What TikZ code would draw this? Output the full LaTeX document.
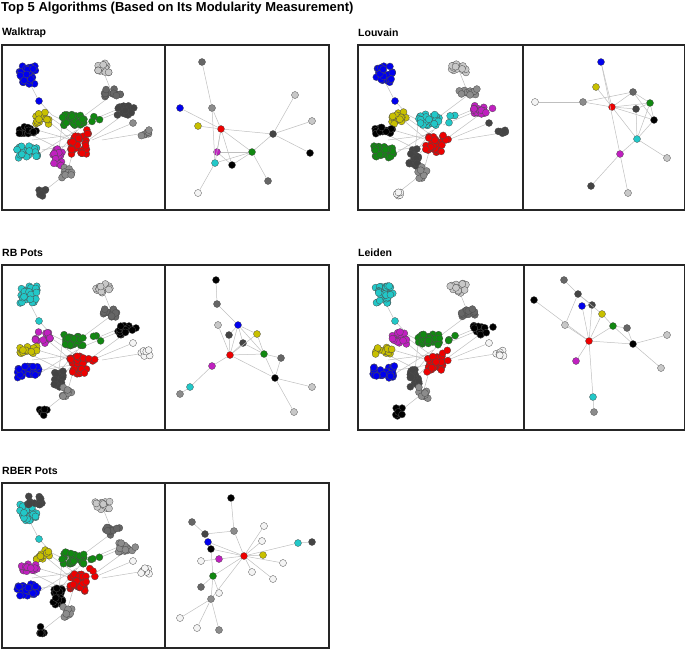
\documentclass[tikz,border=0pt]{standalone}
\usepackage{fontspec}
\setmainfont{Liberation Sans}
\definecolor{dk}{HTML}{444444}
\definecolor{dg}{HTML}{666666}
\definecolor{gr}{HTML}{8c8c8c}
\definecolor{lg}{HTML}{c8c8c8}
\definecolor{wt}{HTML}{f4f4f4}
\definecolor{bl}{HTML}{0000ee}
\definecolor{cy}{HTML}{22c8c8}
\definecolor{yl}{HTML}{c8c000}
\definecolor{gn}{HTML}{118811}
\definecolor{rd}{HTML}{ee0000}
\definecolor{mg}{HTML}{c020c0}
\tikzstyle{net-point}=[circle, draw=black!70, line width=0.3pt, inner sep=0pt, minimum size=7pt]
\tikzstyle{net-edge}=[draw=black!25, line width=0.5pt]
\tikzstyle{panel-box}=[draw=black!85, line width=1.3pt]
\tikzstyle{panel-title}=[anchor=west, inner sep=0pt, font=\bfseries\fontsize{10.5}{12}\selectfont]
\newcommand{\paletteA}[7]{\colorlet{cA}{#1}\colorlet{cB}{#2}\colorlet{cC}{#3}\colorlet{cD}{#4}\colorlet{cE}{#5}\colorlet{cF}{#6}\colorlet{cG}{#7}}
\newcommand{\paletteB}[6]{\colorlet{cH}{#1}\colorlet{cI}{#2}\colorlet{cJ}{#3}\colorlet{cK}{#4}\colorlet{cL}{#5}\colorlet{cM}{#6}}
% one cloud of points: centre x, centre y, colour, count, spread x, spread y
\newcommand{\blob}[6]{%
  \foreach \i in {1,...,#4}
    \filldraw[fill=#3, draw=black!70, line width=0.3pt]
      ({#1+#5*rand}, {#2+#6*rand}) circle (3.5);}
\newcommand{\clusters}{%
  \foreach \xa/\ya/\xb/\yb in {37/56/50/70, 50/70/70/80, 35/85/70/95, 45/75/73/98, 70/80/110/50,
      85/80/121/65, 40/105/70/100, 60/110/73/98, 80/100/121/70, 65/128/73/100, 65/128/41/147,
      90/95/131/78, 100/95/143/88, 30/95/70/90, 50/115/80/80, 30/90/60/105, 45/70/80/95,
      35/110/75/85, 60/80/56/113, 90/75/121/62}
    \draw[net-edge] (\xa,\ya) -- (\xb,\yb);
  \draw[net-edge] (37,56) -- (26,35);
  \draw[net-edge] (100,23) -- (110,48);
  \blob{26}{30}{cA}{34}{9}{9}
  \blob{37}{56}{cA}{1}{0}{0}
  \blob{100}{23}{cB}{14}{8}{5}
  \blob{110}{48}{cC}{13}{9}{4}
  \blob{121}{65}{cD}{16}{6}{5}
  \blob{131}{65}{cD}{2}{4}{3}
  \blob{143}{88}{cE}{7}{5}{3}
  \blob{131}{78}{cE}{1}{0}{0}
  \blob{41}{73}{cF}{16}{8}{6}
  \blob{71}{75}{cG}{32}{11}{6}
  \blob{95}{74}{cG}{3}{6}{4}
  \blob{26}{85}{cH}{16}{9}{4}
  \blob{76}{100}{cI}{32}{9}{9}
  \blob{88}{90}{cI}{3}{5}{6}
  \blob{26}{107}{cJ}{28}{11}{6}
  \blob{56}{113}{cK}{20}{5}{9}
  \blob{65}{128}{cL}{9}{5}{6}
  \blob{41}{147}{cM}{6}{4}{4}}

\begin{document}
\begin{tikzpicture}[x=1pt, y=-1pt]
  \useasboundingbox (0,0) rectangle (685,648);
  \pgfmathsetseed{7}
  \node (title) at (1,8) [panel-title, font=\bfseries\fontsize{13}{15}\selectfont] {Top 5 Algorithms (Based on Its Modularity Measurement)};

  % Walktrap
  \node (walktrap) at (2,33) [panel-title] {Walktrap};
  \begin{scope}[shift={(2,45)}]
    \paletteA{bl}{lg}{dg}{dk}{gr}{yl}{gn}\paletteB{black}{rd}{cy}{mg}{gr}{dk}
    \clusters
  \end{scope}
  \begin{scope}[shift={(165,45)}]
    \node (w1) at (37,17) [net-point, fill=dg] {};
    \node (w2) at (15,63) [net-point, fill=bl] {};
    \node (w3) at (47,63) [net-point, fill=gr] {};
    \node (w4) at (33,81) [net-point, fill=yl] {};
    \node (w5) at (56,84) [net-point, fill=rd] {};
    \node (w6) at (130,50) [net-point, fill=lg] {};
    \node (w7) at (147,76) [net-point, fill=lg] {};
    \node (w8) at (108,89) [net-point, fill=dk] {};
    \node (w9) at (145,108) [net-point, fill=black] {};
    \node (w10) at (87,107) [net-point, fill=gn] {};
    \node (w11) at (52,107) [net-point, fill=mg] {};
    \node (w12) at (50,118) [net-point, fill=cy] {};
    \node (w13) at (67,120) [net-point, fill=black] {};
    \node (w14) at (103,136) [net-point, fill=dg] {};
    \node (w15) at (33,148) [net-point, fill=wt] {};
    \foreach \a/\b in {1/3, 3/5, 2/5, 4/5, 5/8, 8/6, 8/7, 8/9, 8/10, 5/10, 5/11, 5/12, 5/13,
        10/11, 10/12, 10/13, 10/14, 12/15, 11/13, 3/12}
      \draw[net-edge] (w\a) -- (w\b);
  \end{scope}
  \draw[panel-box] (2,45) rectangle (165,210) (165,45) rectangle (329,210);

  % Louvain
  \node (louvain) at (358,33) [panel-title] {Louvain};
  \begin{scope}[shift={(358,45)}]
    \paletteA{bl}{lg}{gr}{mg}{dk}{yl}{cy}\paletteB{black}{rd}{gn}{dk}{gr}{wt}
    \clusters
  \end{scope}
  \begin{scope}[shift={(523,45)}]
    \node (l1) at (78,17) [net-point, fill=bl] {};
    \node (l2) at (73,42) [net-point, fill=yl] {};
    \node (l3) at (12,57) [net-point, fill=wt] {};
    \node (l4) at (60,57) [net-point, fill=gr] {};
    \node (l5) at (110,47) [net-point, fill=dg] {};
    \node (l6) at (127,58) [net-point, fill=gn] {};
    \node (l7) at (89,62) [net-point, fill=rd] {};
    \node (l8) at (113,64) [net-point, fill=dk] {};
    \node (l9) at (131,75) [net-point, fill=black] {};
    \node (l10) at (114,94) [net-point, fill=cy] {};
    \node (l11) at (144,113) [net-point, fill=lg] {};
    \node (l12) at (97,109) [net-point, fill=mg] {};
    \node (l13) at (68,141) [net-point, fill=dk] {};
    \node (l14) at (105,148) [net-point, fill=lg] {};
    \foreach \a/\b in {1/7, 2/7, 3/4, 4/7, 4/5, 7/5, 7/6, 7/8, 7/9, 7/10, 5/6, 5/9, 6/8,
        6/10, 6/9, 8/10, 9/10, 10/11, 10/12, 12/13, 12/14, 1/12}
      \draw[net-edge] (l\a) -- (l\b);
  \end{scope}
  \draw[panel-box] (358,45) rectangle (523,210) (523,45) rectangle (685,210);

  % RB Pots
  \node (rbpots) at (2,253) [panel-title] {RB Pots};
  \begin{scope}[shift={(2,265)}]
    \paletteA{cy}{lg}{dg}{black}{wt}{mg}{gn}\paletteB{yl}{rd}{bl}{dk}{gr}{black}
    \clusters
  \end{scope}
  \begin{scope}[shift={(167,265)}]
    \node (r1) at (49,15) [net-point, fill=black] {};
    \node (r2) at (50,39) [net-point, fill=dg] {};
    \node (r3) at (51,60) [net-point, fill=lg] {};
    \node (r4) at (71,60) [net-point, fill=bl] {};
    \node (r5) at (62,70) [net-point, fill=dk] {};
    \node (r6) at (90,69) [net-point, fill=yl] {};
    \node (r7) at (76,78) [net-point, fill=dk] {};
    \node (r8) at (63,90) [net-point, fill=rd] {};
    \node (r9) at (97,89) [net-point, fill=gn] {};
    \node (r10) at (114,93) [net-point, fill=dg] {};
    \node (r11) at (45,101) [net-point, fill=mg] {};
    \node (r12) at (108,113) [net-point, fill=black] {};
    \node (r13) at (23,122) [net-point, fill=cy] {};
    \node (r14) at (13,129) [net-point, fill=gr] {};
    \node (r15) at (145,122) [net-point, fill=lg] {};
    \node (r16) at (127,147) [net-point, fill=lg] {};
    \foreach \a/\b in {1/2, 2/4, 3/8, 4/5, 4/8, 4/6, 4/7, 4/9, 5/8, 7/8, 6/9, 6/8, 8/9, 8/11,
        8/12, 9/10, 9/12, 10/12, 11/13, 13/14, 12/15, 12/16, 7/9}
      \draw[net-edge] (r\a) -- (r\b);
  \end{scope}
  \draw[panel-box] (2,265) rectangle (165,430) (165,265) rectangle (329,430);

  % Leiden
  \node (leiden) at (358,253) [panel-title] {Leiden};
  \begin{scope}[shift={(358,265)}]
    \paletteA{cy}{lg}{dg}{black}{wt}{mg}{gn}\paletteB{yl}{rd}{bl}{dk}{gr}{black}
    \clusters
  \end{scope}
  \begin{scope}[shift={(524,265)}]
    \node (e1) at (40,15) [net-point, fill=dg] {};
    \node (e2) at (10,35) [net-point, fill=black] {};
    \node (e3) at (54,29) [net-point, fill=dk] {};
    \node (e4) at (58,41) [net-point, fill=bl] {};
    \node (e5) at (68,40) [net-point, fill=dk] {};
    \node (e6) at (78,49) [net-point, fill=yl] {};
    \node (e7) at (41,60) [net-point, fill=lg] {};
    \node (e8) at (89,61) [net-point, fill=gn] {};
    \node (e9) at (103,63) [net-point, fill=dg] {};
    \node (e10) at (65,76) [net-point, fill=rd] {};
    \node (e11) at (109,79) [net-point, fill=black] {};
    \node (e12) at (143,70) [net-point, fill=lg] {};
    \node (e13) at (52,96) [net-point, fill=mg] {};
    \node (e14) at (137,103) [net-point, fill=lg] {};
    \node (e15) at (69,132) [net-point, fill=cy] {};
    \node (e16) at (70,147) [net-point, fill=gr] {};
    \foreach \a/\b in {1/3, 3/5, 3/6, 2/10, 4/10, 5/10, 6/10, 7/10, 7/3, 8/10, 10/13, 10/15,
        15/16, 8/11, 8/9, 9/11, 11/12, 11/14, 10/11, 4/5, 6/8}
      \draw[net-edge] (e\a) -- (e\b);
  \end{scope}
  \draw[panel-box] (358,265) rectangle (524,430) (524,265) rectangle (685,430);

  % RBER Pots
  \node (rberpots) at (2,471) [panel-title] {RBER Pots};
  \begin{scope}[shift={(2,483)}]
    \paletteA{cy}{lg}{dg}{gr}{wt}{yl}{gn}\paletteB{mg}{rd}{bl}{black}{gr}{black}
    \clusters
    \blob{33}{18}{dk}{12}{7}{5}
  \end{scope}
  \begin{scope}[shift={(167,483)}]
    \node (b1) at (64,15) [net-point, fill=black] {};
    \node (b2) at (25,39) [net-point, fill=dg] {};
    \node (b3) at (67,48) [net-point, fill=gr] {};
    \node (b4) at (38,51) [net-point, fill=dk] {};
    \node (b5) at (97,43) [net-point, fill=wt] {};
    \node (b6) at (95,58) [net-point, fill=wt] {};
    \node (b7) at (41,59) [net-point, fill=bl] {};
    \node (b8) at (44,66) [net-point, fill=black] {};
    \node (b9) at (131,60) [net-point, fill=cy] {};
    \node (b10) at (145,59) [net-point, fill=dk] {};
    \node (b11) at (77,73) [net-point, fill=rd] {};
    \node (b12) at (96,72) [net-point, fill=yl] {};
    \node (b13) at (52,76) [net-point, fill=mg] {};
    \node (b14) at (34,78) [net-point, fill=wt] {};
    \node (b15) at (116,80) [net-point, fill=wt] {};
    \node (b16) at (85,89) [net-point, fill=wt] {};
    \node (b17) at (46,93) [net-point, fill=gn] {};
    \node (b18) at (106,96) [net-point, fill=wt] {};
    \node (b19) at (34,104) [net-point, fill=dg] {};
    \node (b20) at (52,110) [net-point, fill=wt] {};
    \node (b21) at (44,116) [net-point, fill=gr] {};
    \node (b22) at (13,135) [net-point, fill=wt] {};
    \node (b23) at (30,145) [net-point, fill=wt] {};
    \node (b24) at (52,147) [net-point, fill=gr] {};
    \foreach \a/\b in {1/3, 3/11, 3/4, 2/4, 4/7, 11/5, 11/6, 11/7, 11/8, 11/13, 11/12, 11/9,
        11/15, 11/16, 11/17, 11/18, 11/21, 9/10, 13/14, 17/8, 17/19, 17/20, 17/21, 21/22,
        21/23, 21/24}
      \draw[net-edge] (b\a) -- (b\b);
  \end{scope}
  \draw[panel-box] (2,483) rectangle (165,648) (165,483) rectangle (329,648);
\end{tikzpicture}
\end{document}
